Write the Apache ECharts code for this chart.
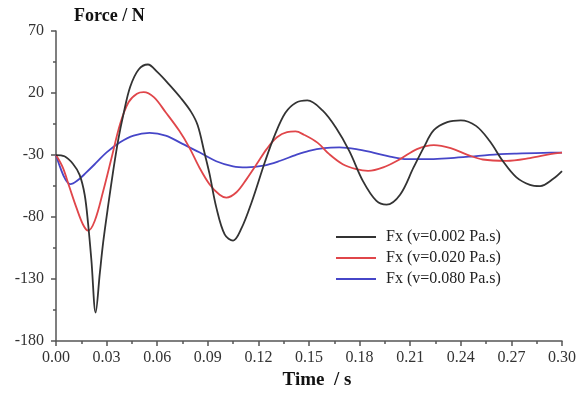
<!DOCTYPE html>
<html>
<head>
<meta charset="utf-8">
<script src="https://cdn.jsdelivr.net/npm/echarts@6/dist/echarts.min.js"></script>
<style>
html,body{margin:0;padding:0;background:#fff;}
#chart{width:583px;height:395px;}
</style>
</head>
<body>
<div id="chart"></div>
<script>
// ---- data ----
var seriesNames = ['Fx (v=0.002 Pa.s)', 'Fx (v=0.020 Pa.s)', 'Fx (v=0.080 Pa.s)'];
var seriesColors = ['#333333', '#e0464a', '#4646c8'];

var blackT = [0, 0.005, 0.010, 0.014, 0.017, 0.019, 0.021, 0.0235, 0.026, 0.028, 0.031, 0.034, 0.037, 0.040, 0.044, 0.049, 0.0545, 0.060, 0.067, 0.074, 0.080, 0.084, 0.088, 0.091, 0.095, 0.100, 0.105, 0.110, 0.116, 0.124, 0.130, 0.136, 0.142, 0.149, 0.158, 0.166, 0.174, 0.182, 0.190, 0.196, 0.204, 0.212, 0.218, 0.224, 0.232, 0.240, 0.249, 0.257, 0.265, 0.273, 0.281, 0.287, 0.295, 0.300];
var blackV = [-30, -31, -37, -46, -62, -85, -115, -157, -125, -100, -70, -42, -17, 3, 25, 39, 43, 37, 27, 16, 5, -6, -28, -45, -72, -94, -99, -89, -68, -35, -13, 4, 12, 14, 6, -8, -27, -51, -67, -70, -62, -40, -24, -10, -3.5, -2, -6.5, -18.5, -35, -48, -54, -55, -49, -43];

var redT = [0, 0.004, 0.008, 0.012, 0.016, 0.019, 0.023, 0.028, 0.033, 0.038, 0.043, 0.048, 0.052, 0.058, 0.065, 0.073, 0.079, 0.085, 0.091, 0.097, 0.101, 0.107, 0.113, 0.119, 0.125, 0.131, 0.137, 0.142, 0.147, 0.155, 0.162, 0.170, 0.178, 0.185, 0.194, 0.204, 0.214, 0.224, 0.234, 0.244, 0.253, 0.267, 0.281, 0.293, 0.300];
var redV = [-30, -40, -56, -72, -86, -91, -83, -59, -32, -5, 12.6, 19.4, 20.7, 16.7, 4.5, -10.3, -23.8, -40, -53.5, -62, -64.3, -60, -49.4, -37.3, -25, -15.7, -11.5, -11, -13.6, -20, -29.3, -37.4, -41.4, -42.8, -40, -33.3, -25.2, -22, -24.4, -29.8, -33.6, -34.7, -32.5, -29.3, -28];

var blueT = [0, 0.0025, 0.0055, 0.0085, 0.0125, 0.018, 0.024, 0.030, 0.038, 0.046, 0.0555, 0.065, 0.075, 0.085, 0.095, 0.105, 0.113, 0.123, 0.133, 0.142, 0.150, 0.159, 0.168, 0.178, 0.188, 0.198, 0.208, 0.222, 0.234, 0.246, 0.257, 0.273, 0.289, 0.300];
var blueV = [-30, -40, -49.4, -53.5, -50.8, -44, -36, -27.8, -19.7, -14.3, -12.2, -14.3, -21, -27.8, -35, -39.2, -40, -38.6, -34.6, -30, -26.6, -24.4, -23.9, -25.2, -28, -31.2, -33.3, -33.3, -32.5, -31.2, -29.8, -28.8, -28.2, -28];

var yMajorTicks = [-180, -130, -80, -30, 20, 70];
var yMinorTicks = [-155, -105, -55, -5, 45];
var xMin = 0, xMax = 0.30, xStep = 0.03;
var yMin = -180, yMax = 70;

function pairs(t, v) { return t.map(function (x, i) { return [x, v[i]]; }); }

var font = '"Liberation Serif", "Times New Roman", serif';
var axisColor = '#555555';
var chart = echarts.init(document.getElementById('chart'), null, { renderer: 'canvas' });

var allT = [blackT, redT, blueT];
var allV = [blackV, redV, blueV];

chart.setOption({
  backgroundColor: '#ffffff',
  animation: false,
  grid: { left: 56, right: 21, top: 31, bottom: 53, containLabel: false },
  legend: {
    orient: 'vertical',
    left: 331,
    top: 223,
    icon: 'rect',
    itemWidth: 40,
    itemHeight: 2,
    itemGap: 3,
    data: seriesNames,
    textStyle: { fontFamily: font, fontSize: 16, color: '#222', lineHeight: 18, padding: [0, 0, 0, 5] }
  },
  xAxis: {
    type: 'value',
    min: xMin,
    max: xMax,
    interval: xStep,
    name: 'Time  / s',
    nameLocation: 'middle',
    nameGap: 29,
    nameTextStyle: { fontFamily: font, fontSize: 19, fontWeight: 'bold', color: '#111', padding: [0, 0, 0, 16] },
    axisLine: { show: true, onZero: false, lineStyle: { color: axisColor, width: 1.5 } },
    axisTick: { show: true, inside: false, length: 5, lineStyle: { color: axisColor, width: 1.5 } },
    minorTick: { show: true, splitNumber: 2, length: 3, lineStyle: { color: axisColor, width: 1.5 } },
    splitLine: { show: false },
    minorSplitLine: { show: false },
    axisLabel: { fontFamily: font, fontSize: 16, color: '#333', margin: 9, formatter: function (v) { return v.toFixed(2); } }
  },
  yAxis: [{
    type: 'value',
    min: yMin,
    max: yMax,
    name: 'Force / N',
    nameLocation: 'end',
    nameGap: 6,
    nameTextStyle: { fontFamily: font, fontSize: 18, fontWeight: 'bold', color: '#111', align: 'left', padding: [0, 0, 0, 18] },
    axisLine: { show: true, onZero: false, lineStyle: { color: axisColor, width: 1.5 } },
    axisTick: { show: true, length: 5, customValues: yMajorTicks, lineStyle: { color: axisColor, width: 1.5 } },
    splitLine: { show: false },
    axisLabel: { fontFamily: font, fontSize: 16, color: '#333', margin: 12, customValues: yMajorTicks }
  }, {
    type: 'value',
    min: yMin,
    max: yMax,
    position: 'left',
    axisLine: { show: false, onZero: false },
    axisTick: { show: true, length: 3, customValues: yMinorTicks, lineStyle: { color: axisColor, width: 1.5 } },
    splitLine: { show: false },
    axisLabel: { show: false }
  }],
  series: seriesNames.map(function (n, i) {
    return {
      name: n,
      type: 'line',
      data: pairs(allT[i], allV[i]),
      smooth: 0.35,
      showSymbol: false,
      symbol: 'none',
      color: seriesColors[i],
      lineStyle: { color: seriesColors[i], width: 1.8 },
      z: 3 - i
    };
  })
});
</script>
</body>
</html>
